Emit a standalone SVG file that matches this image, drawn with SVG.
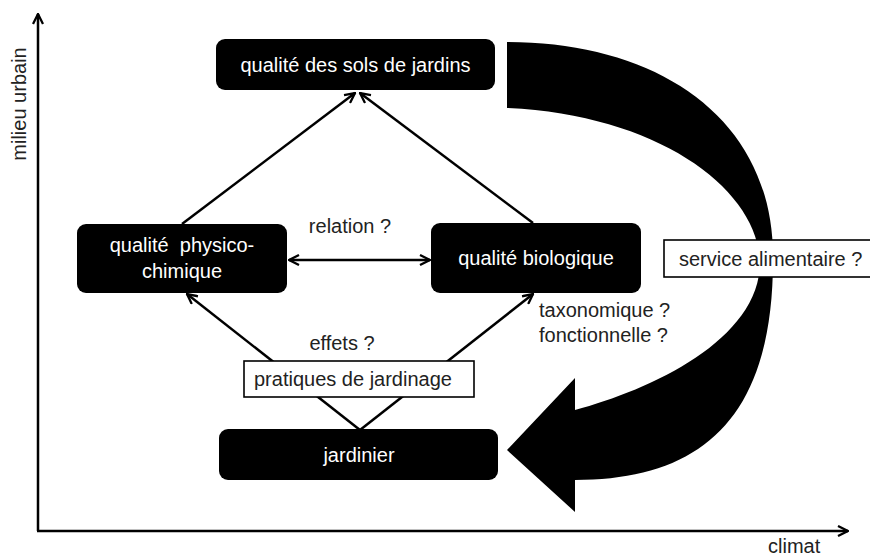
<svg xmlns="http://www.w3.org/2000/svg" width="870" height="557" viewBox="0 0 870 557">
<style>
text{font-family:"Liberation Sans",Arial,sans-serif;font-size:20px;}
.node rect{fill:#000;}
.node text{fill:#fff;text-anchor:middle;}
.box rect{fill:#fff;stroke:#000;stroke-width:1.6;}
.box text{fill:#222;}
.lbl{fill:#222;}
.conn line,.conn path.l{stroke:#000;stroke-width:2.5;fill:none;}
</style>
<defs>
<marker id="ah" viewBox="0 0 12 12" refX="11" refY="6" markerWidth="12" markerHeight="12" markerUnits="userSpaceOnUse" orient="auto-start-reverse">
<path d="M1,1 L11,6 L1,11" fill="none" stroke="#000" stroke-width="2.3"/>
</marker>
</defs>
<rect width="870" height="557" fill="#fff"/>
<g id="axes" class="conn">
<line x1="38" y1="531" x2="38" y2="14" marker-end="url(#ah)"/>
<line x1="37" y1="531" x2="848" y2="531" marker-end="url(#ah)"/>
</g>
<text class="lbl" transform="translate(26,104) rotate(-90)" text-anchor="middle">milieu urbain</text>
<text class="lbl" x="768" y="553">climat</text>
<g id="bigArrow">
<path d="M507,42 C660,42 775,120 773,260 C773,420 700,480 575,480 L575,512 L507,450 L575,378 L575,410 C650,390 760,340 760,262 C758,190 660,115 507,108 Z" fill="#000"/>
</g>
<g id="connectors" class="conn">
<line x1="182" y1="224" x2="355" y2="93" marker-end="url(#ah)"/>
<line x1="533" y1="223" x2="360" y2="93" marker-end="url(#ah)"/>
<line x1="289" y1="260" x2="430" y2="260" marker-start="url(#ah)" marker-end="url(#ah)"/>
<line x1="360" y1="430" x2="187" y2="294" marker-end="url(#ah)"/>
<line x1="360" y1="430" x2="533" y2="294" marker-end="url(#ah)"/>
</g>
<g id="n-sols" class="node">
<rect x="216" y="39" width="279" height="51" rx="9"/>
<text x="355.5" y="72">qualité des sols de jardins</text>
</g>
<g id="n-physico" class="node">
<rect x="77" y="224" width="210" height="69" rx="9"/>
<text x="182" y="252" xml:space="preserve">qualité  physico-</text>
<text x="182" y="278">chimique</text>
</g>
<g id="n-bio" class="node">
<rect x="431" y="223" width="210" height="70" rx="9"/>
<text x="536" y="265">qualité biologique</text>
</g>
<g id="n-jardinier" class="node">
<rect x="219" y="429" width="279" height="51" rx="9"/>
<text x="359" y="462">jardinier</text>
</g>
<g id="n-pratiques" class="box">
<rect x="244" y="361" width="230" height="36"/>
<text x="254" y="386">pratiques de jardinage</text>
</g>
<g id="n-service" class="box">
<rect x="664" y="240" width="210" height="37"/>
<text x="679" y="266">service alimentaire ?</text>
</g>
<text class="lbl" x="350" y="233" text-anchor="middle">relation ?</text>
<text class="lbl" x="342" y="350" text-anchor="middle">effets ?</text>
<text class="lbl" x="539" y="317">taxonomique ?</text>
<text class="lbl" x="539" y="342">fonctionnelle ?</text>
</svg>
